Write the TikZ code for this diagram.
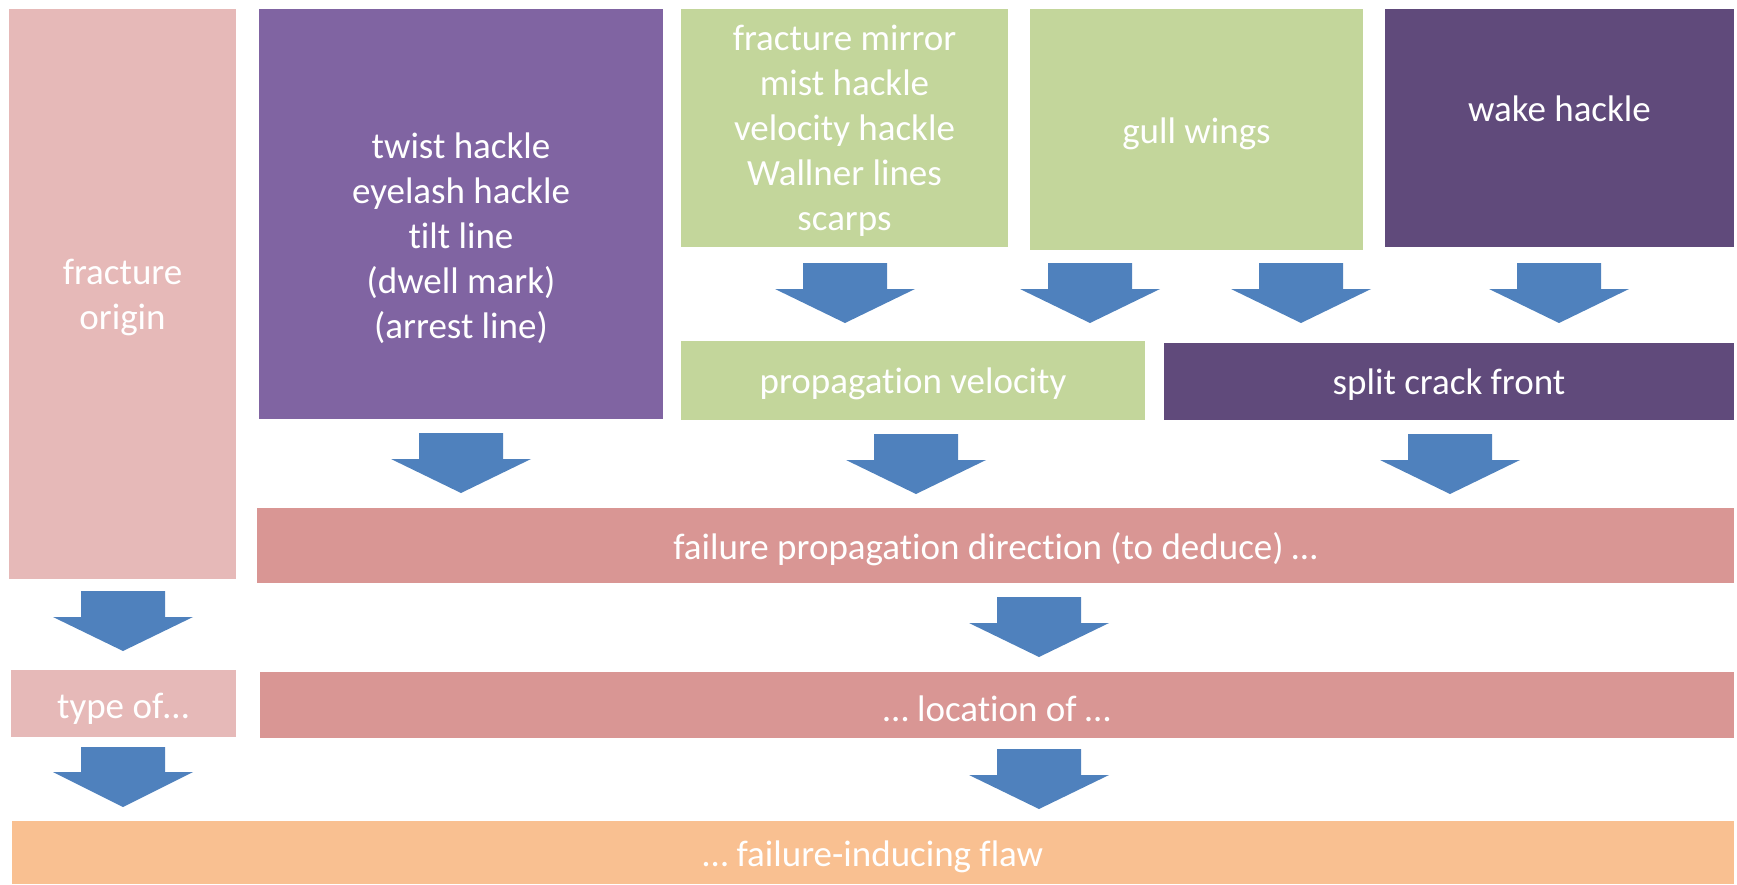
\documentclass[tikz,border=0pt]{standalone}
\usepackage{fontspec}
\setmainfont{Carlito}[RawFeature={-liga;-dlig;-calt;-clig;-rlig}]
\definecolor{cOrigin}{HTML}{E6B9B8}
\definecolor{cTwist}{HTML}{8064A2}
\definecolor{cGreen}{HTML}{C3D69B}
\definecolor{cDark}{HTML}{604A7B}
\definecolor{cRed}{HTML}{D99694}
\definecolor{cOrange}{HTML}{F9C091}
\definecolor{cArrow}{HTML}{4F81BD}
\tikzset{
  box/.style={inner sep=0pt, draw=none},
  txt/.style={text=white, align=center, inner sep=0pt, yshift=-2.5pt, font=\fontsize{37}{45}\selectfont},
  blockarrow/.style={fill=cArrow, draw=none}
}
% #1 centre x, #2 top of shaft, #3 base of head, #4 tip
\newcommand\myarrow[4]{%
  \fill[blockarrow] (#1-42,#2) -- (#1+42,#2) -- (#1+42,#3) -- (#1+70,#3) -- (#1,#4) -- (#1-70,#3) -- (#1-42,#3) -- cycle;}
% #1 name, #2 colour, #3 x1, #4 y1, #5 x2, #6 y2
\newcommand\mybox[6]{%
  \node[box, fill=#2, minimum width={(#5-#3)*1pt}, minimum height={(#6-#4)*1pt}] (#1) at ({(#3+#5)/2},{(#4+#6)/2}) {};}
\begin{document}
\begin{tikzpicture}[x=1pt, y=-1pt]
\useasboundingbox (0,0) rectangle (1737,884);
\mybox{origin}{cOrigin}{9}{9}{236}{579}
\mybox{twist}{cTwist}{259}{9}{663}{419}
\mybox{mirror}{cGreen}{681}{9}{1008}{247}
\mybox{gull}{cGreen}{1030}{9}{1363}{250}
\mybox{wake}{cDark}{1385}{9}{1734}{247}
\mybox{propvel}{cGreen}{681}{341}{1145}{420}
\mybox{split}{cDark}{1164}{343}{1734}{420}
\mybox{faildir}{cRed}{257}{508}{1734}{583}
\mybox{typeof}{cOrigin}{11}{670}{236}{737}
\mybox{location}{cRed}{260}{672}{1734}{738}
\mybox{flaw}{cOrange}{12}{821}{1734}{884}

\node[txt] (origin-t) at (122.5,295) {fracture\\origin};
\node[txt] (twist-t) at (461,236) {twist hackle\\eyelash hackle\\tilt line\\(dwell mark)\\(arrest line)};
\node[txt] (mirror-t) at (844.5,128.5) {fracture mirror\\mist hackle\\velocity hackle\\Wallner lines\\scarps};
\node[txt] (gull-t) at (1196.5,131) {gull wings};
\node[txt] (wake-t) at (1559.5,106) {wake hackle};
\node[txt] (propvel-t) at (913,381) {propagation velocity};
\node[txt] (split-t) at (1449,382) {split crack front};
\node[txt] (faildir-t) at (995.5,547) {failure propagation direction (to deduce) …};
\node[txt] (typeof-t) at (123,706) {type of…};
\node[txt] (location-t) at (997,706) {… location of …};
\node[txt] (flaw-t) at (873,854) {… failure-inducing flaw};

\myarrow{845}{263}{289}{323}
\myarrow{1090}{263}{289}{323}
\myarrow{1301}{263}{289}{323}
\myarrow{1559}{263}{289}{323}
\myarrow{461}{433}{459}{493}
\myarrow{916}{434}{460}{494}
\myarrow{1450}{434}{460}{494}
\myarrow{123}{591}{617}{651}
\myarrow{1039}{597}{623}{657}
\myarrow{123}{747}{772}{807}
\myarrow{1039}{749}{775}{809}
\end{tikzpicture}
\end{document}
